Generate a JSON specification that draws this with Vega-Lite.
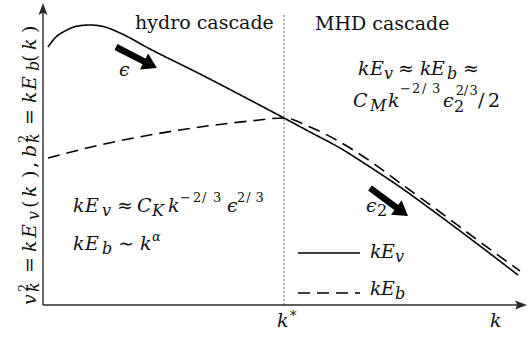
{
  "$schema": "https://vega.github.io/schema/vega-lite/v6.json",
  "width": 527,
  "height": 339,
  "padding": 0,
  "autosize": {"type": "fit", "contains": "padding"},
  "background": "white",
  "config": {"view": {"stroke": null}, "text": {"font": "DejaVu Serif"}},
  "datasets": {
    "curves": [
      {"x": 0.103, "y": 8.6, "series": "kEv"},
      {"x": 0.248, "y": 8.9, "series": "kEv"},
      {"x": 0.455, "y": 9.133, "series": "kEv"},
      {"x": 0.723, "y": 9.3, "series": "kEv"},
      {"x": 0.971, "y": 9.333, "series": "kEv"},
      {"x": 1.281, "y": 9.267, "series": "kEv"},
      {"x": 1.591, "y": 9.067, "series": "kEv"},
      {"x": 2.211, "y": 8.533, "series": "kEv"},
      {"x": 3.244, "y": 7.7, "series": "kEv"},
      {"x": 4.277, "y": 6.833, "series": "kEv"},
      {"x": 4.979, "y": 6.233, "series": "kEv"},
      {"x": 5.517, "y": 5.767, "series": "kEv"},
      {"x": 6.136, "y": 5.233, "series": "kEv"},
      {"x": 6.756, "y": 4.6, "series": "kEv"},
      {"x": 7.376, "y": 3.933, "series": "kEv"},
      {"x": 8.202, "y": 2.967, "series": "kEv"},
      {"x": 9.029, "y": 1.967, "series": "kEv"},
      {"x": 9.814, "y": 1.0, "series": "kEv"},
      {"x": 0.103, "y": 4.9, "series": "kEb"},
      {"x": 1.178, "y": 5.333, "series": "kEb"},
      {"x": 2.211, "y": 5.667, "series": "kEb"},
      {"x": 3.244, "y": 5.933, "series": "kEb"},
      {"x": 4.277, "y": 6.133, "series": "kEb"},
      {"x": 4.979, "y": 6.233, "series": "kEb"},
      {"x": 5.517, "y": 5.933, "series": "kEb"},
      {"x": 6.136, "y": 5.433, "series": "kEb"},
      {"x": 6.756, "y": 4.8, "series": "kEb"},
      {"x": 7.376, "y": 4.067, "series": "kEb"},
      {"x": 8.202, "y": 3.1, "series": "kEb"},
      {"x": 9.029, "y": 2.1, "series": "kEb"},
      {"x": 9.855, "y": 1.133, "series": "kEb"}
    ],
    "legendLines": [
      {"x": 5.269, "x2": 6.55, "y": 1.733, "series": "kEv"},
      {"x": 5.269, "x2": 6.55, "y": 0.4, "series": "kEb"}
    ],
    "axes": [
      {"x": 0, "y": 0, "x2": 9.897, "y2": 0},
      {"x": 0, "y": 0, "x2": 0, "y2": 9.9}
    ],
    "kstar": [{"x": 4.979, "y": 0, "x2": 4.979, "y2": 9.667}],
    "shafts": [
      {"x": 1.508, "y": 8.6, "x2": 2.116, "y2": 8.097},
      {"x": 6.756, "y": 3.9, "x2": 7.324, "y2": 3.223}
    ],
    "labels": [
      {"t": "hydro cascade", "x": 1.901, "y": 9.2, "kind": "rm", "level": "base", "orient": "h"},
      {"t": "MHD cascade", "x": 5.62, "y": 9.167, "kind": "rm", "level": "base", "orient": "h"},

      {"t": "k", "x": 6.508, "y": 7.667, "kind": "it", "level": "base", "orient": "h"},
      {"t": "E", "x": 6.756, "y": 7.667, "kind": "it", "level": "base", "orient": "h"},
      {"t": "v", "x": 7.045, "y": 7.533, "kind": "it", "level": "sub", "orient": "h"},
      {"t": "≈", "x": 7.335, "y": 7.667, "kind": "rm", "level": "base", "orient": "h"},
      {"t": "k", "x": 7.789, "y": 7.667, "kind": "it", "level": "base", "orient": "h"},
      {"t": "E", "x": 8.017, "y": 7.667, "kind": "it", "level": "base", "orient": "h"},
      {"t": "b", "x": 8.347, "y": 7.533, "kind": "it", "level": "sub", "orient": "h"},
      {"t": "≈", "x": 8.678, "y": 7.667, "kind": "rm", "level": "base", "orient": "h"},

      {"t": "C", "x": 6.405, "y": 6.6, "kind": "it", "level": "base", "orient": "h"},
      {"t": "M", "x": 6.757, "y": 6.467, "kind": "it", "level": "sub", "orient": "h"},
      {"t": "k", "x": 7.128, "y": 6.6, "kind": "it", "level": "base", "orient": "h"},
      {"t": "−", "x": 7.376, "y": 7.067, "kind": "rm", "level": "sup", "orient": "h"},
      {"t": "2", "x": 7.624, "y": 7.067, "kind": "rm", "level": "sup", "orient": "h"},
      {"t": "/", "x": 7.831, "y": 7.067, "kind": "rm", "level": "sup", "orient": "h"},
      {"t": "3", "x": 8.037, "y": 7.067, "kind": "rm", "level": "sup", "orient": "h"},
      {"t": "ϵ", "x": 8.264, "y": 6.6, "kind": "it", "level": "base", "orient": "h"},
      {"t": "2", "x": 8.492, "y": 6.433, "kind": "rm", "level": "sub", "orient": "h"},
      {"t": "2", "x": 8.53, "y": 7.0, "kind": "rm", "level": "sup", "orient": "h"},
      {"t": "/", "x": 8.695, "y": 7.0, "kind": "rm", "level": "sup", "orient": "h"},
      {"t": "3", "x": 8.812, "y": 7.0, "kind": "rm", "level": "sup", "orient": "h"},
      {"t": "/", "x": 8.988, "y": 6.6, "kind": "rm", "level": "base", "orient": "h"},
      {"t": "2", "x": 9.194, "y": 6.6, "kind": "rm", "level": "base", "orient": "h"},

      {"t": "k", "x": 0.62, "y": 3.1, "kind": "it", "level": "base", "orient": "h"},
      {"t": "E", "x": 0.868, "y": 3.1, "kind": "it", "level": "base", "orient": "h"},
      {"t": "v", "x": 1.22, "y": 2.967, "kind": "it", "level": "sub", "orient": "h"},
      {"t": "≈", "x": 1.529, "y": 3.1, "kind": "rm", "level": "base", "orient": "h"},
      {"t": "C", "x": 1.942, "y": 3.1, "kind": "it", "level": "base", "orient": "h"},
      {"t": "K", "x": 2.252, "y": 2.967, "kind": "it", "level": "sub", "orient": "h"},
      {"t": "k", "x": 2.583, "y": 3.1, "kind": "it", "level": "base", "orient": "h"},
      {"t": "−", "x": 2.831, "y": 3.433, "kind": "rm", "level": "sup", "orient": "h"},
      {"t": "2", "x": 3.099, "y": 3.433, "kind": "rm", "level": "sup", "orient": "h"},
      {"t": "/", "x": 3.285, "y": 3.433, "kind": "rm", "level": "sup", "orient": "h"},
      {"t": "3", "x": 3.512, "y": 3.433, "kind": "rm", "level": "sup", "orient": "h"},
      {"t": "ϵ", "x": 3.802, "y": 3.1, "kind": "it", "level": "base", "orient": "h"},
      {"t": "2", "x": 4.01, "y": 3.433, "kind": "rm", "level": "sup", "orient": "h"},
      {"t": "/", "x": 4.2, "y": 3.433, "kind": "rm", "level": "sup", "orient": "h"},
      {"t": "3", "x": 4.39, "y": 3.433, "kind": "rm", "level": "sup", "orient": "h"},

      {"t": "k", "x": 0.62, "y": 1.833, "kind": "it", "level": "base", "orient": "h"},
      {"t": "E", "x": 0.868, "y": 1.833, "kind": "it", "level": "base", "orient": "h"},
      {"t": "b", "x": 1.22, "y": 1.7, "kind": "it", "level": "sub", "orient": "h"},
      {"t": "∼", "x": 1.55, "y": 1.833, "kind": "rm", "level": "base", "orient": "h"},
      {"t": "k", "x": 2.004, "y": 1.833, "kind": "it", "level": "base", "orient": "h"},
      {"t": "α", "x": 2.252, "y": 2.133, "kind": "it", "level": "sup", "orient": "h"},

      {"t": "k", "x": 6.756, "y": 1.567, "kind": "it", "level": "base", "orient": "h"},
      {"t": "E", "x": 6.983, "y": 1.567, "kind": "it", "level": "base", "orient": "h"},
      {"t": "v", "x": 7.273, "y": 1.433, "kind": "it", "level": "sub", "orient": "h"},
      {"t": "k", "x": 6.756, "y": 0.333, "kind": "it", "level": "base", "orient": "h"},
      {"t": "E", "x": 6.983, "y": 0.333, "kind": "it", "level": "base", "orient": "h"},
      {"t": "b", "x": 7.273, "y": 0.2, "kind": "it", "level": "sub", "orient": "h"},

      {"t": "ϵ", "x": 1.57, "y": 7.633, "kind": "it", "level": "base", "orient": "h"},
      {"t": "ϵ", "x": 6.674, "y": 3.1, "kind": "it", "level": "base", "orient": "h"},
      {"t": "2", "x": 6.901, "y": 2.967, "kind": "rm", "level": "sub", "orient": "h"},

      {"t": "k", "x": 4.835, "y": -0.733, "kind": "it", "level": "base", "orient": "h"},
      {"t": "*", "x": 5.103, "y": -0.5, "kind": "rm", "level": "sup", "orient": "h"},
      {"t": "k", "x": 9.236, "y": -0.733, "kind": "it", "level": "base", "orient": "h"},

      {"t": "v", "x": -0.145, "y": 0.0, "kind": "it", "level": "base", "orient": "v"},
      {"t": "k", "x": -0.083, "y": 0.433, "kind": "it", "level": "sub", "orient": "v"},
      {"t": "2", "x": -0.31, "y": 0.433, "kind": "rm", "level": "sup", "orient": "v"},
      {"t": "=", "x": -0.145, "y": 1.067, "kind": "rm", "level": "base", "orient": "v"},
      {"t": "k", "x": -0.145, "y": 1.767, "kind": "it", "level": "base", "orient": "v"},
      {"t": "E", "x": -0.145, "y": 2.233, "kind": "it", "level": "base", "orient": "v"},
      {"t": "v", "x": -0.083, "y": 2.833, "kind": "it", "level": "sub", "orient": "v"},
      {"t": "(", "x": -0.145, "y": 3.233, "kind": "rm", "level": "base", "orient": "v"},
      {"t": "k", "x": -0.145, "y": 3.6, "kind": "it", "level": "base", "orient": "v"},
      {"t": ")", "x": -0.145, "y": 4.233, "kind": "rm", "level": "base", "orient": "v"},
      {"t": ",", "x": -0.145, "y": 4.567, "kind": "rm", "level": "base", "orient": "v"},
      {"t": "b", "x": -0.145, "y": 4.933, "kind": "it", "level": "base", "orient": "v"},
      {"t": "k", "x": -0.083, "y": 5.4, "kind": "it", "level": "sub", "orient": "v"},
      {"t": "2", "x": -0.31, "y": 5.4, "kind": "rm", "level": "sup", "orient": "v"},
      {"t": "=", "x": -0.145, "y": 6.0, "kind": "rm", "level": "base", "orient": "v"},
      {"t": "k", "x": -0.145, "y": 6.733, "kind": "it", "level": "base", "orient": "v"},
      {"t": "E", "x": -0.145, "y": 7.167, "kind": "it", "level": "base", "orient": "v"},
      {"t": "b", "x": -0.083, "y": 7.8, "kind": "it", "level": "sub", "orient": "v"},
      {"t": "(", "x": -0.145, "y": 8.1, "kind": "rm", "level": "base", "orient": "v"},
      {"t": "k", "x": -0.145, "y": 8.5, "kind": "it", "level": "base", "orient": "v"},
      {"t": ")", "x": -0.145, "y": 9.067, "kind": "rm", "level": "base", "orient": "v"}
    ]
  },
  "encoding": {
    "x": {"field": "x", "type": "quantitative", "axis": null, "scale": {"domain": [-0.888, 10], "nice": false, "zero": false}},
    "y": {"field": "y", "type": "quantitative", "axis": null, "scale": {"domain": [-1.1333, 10.1667], "nice": false, "zero": false}}
  },
  "layer": [
    {
      "data": {"name": "kstar"},
      "mark": {"type": "rule", "color": "#8a8a8a", "strokeWidth": 1.3, "strokeDash": [2, 2]},
      "encoding": {"x2": {"field": "x2"}, "y2": {"field": "y2"}}
    },
    {
      "data": {"name": "axes"},
      "mark": {"type": "rule", "color": "#2a2a2a", "strokeWidth": 1.4},
      "encoding": {"x2": {"field": "x2"}, "y2": {"field": "y2"}}
    },
    {
      "data": {"values": [{"x": 9.876, "y": 0}]},
      "mark": {"type": "point", "shape": "M1,0L-1,-0.75L-0.6,0L-1,0.75Z", "filled": true, "opacity": 1, "color": "#2a2a2a", "size": 144, "angle": 0}
    },
    {
      "data": {"values": [{"x": 0, "y": 9.867}]},
      "mark": {"type": "point", "shape": "M1,0L-1,-0.75L-0.6,0L-1,0.75Z", "filled": true, "opacity": 1, "color": "#2a2a2a", "size": 144, "angle": 270}
    },
    {
      "data": {"name": "curves"},
      "mark": {"type": "line", "color": "black", "strokeWidth": 1.6, "interpolate": "monotone"},
      "encoding": {
        "detail": {"field": "series"},
        "strokeDash": {"field": "series", "type": "nominal", "scale": {"domain": ["kEv", "kEb"], "range": [[1, 0], [12, 7]]}, "legend": null}
      }
    },
    {
      "data": {"name": "legendLines"},
      "mark": {"type": "rule", "color": "black", "strokeWidth": 1.6},
      "encoding": {
        "x2": {"field": "x2"},
        "strokeDash": {"field": "series", "type": "nominal", "scale": {"domain": ["kEv", "kEb"], "range": [[1, 0], [13, 8]]}, "legend": null}
      }
    },
    {
      "data": {"name": "shafts"},
      "mark": {"type": "rule", "color": "black", "strokeWidth": 6.5, "strokeCap": "butt"},
      "encoding": {"x2": {"field": "x2"}, "y2": {"field": "y2"}}
    },
    {
      "data": {"values": [{"x": 2.221, "y": 8.01}]},
      "mark": {"type": "point", "shape": "M1,0L-1,-1.24L-1,1.24Z", "filled": true, "opacity": 1, "color": "black", "size": 210, "angle": 27}
    },
    {
      "data": {"values": [{"x": 7.421, "y": 3.11}]},
      "mark": {"type": "point", "shape": "M1,0L-1,-1.24L-1,1.24Z", "filled": true, "opacity": 1, "color": "black", "size": 210, "angle": 36}
    },
    {
      "data": {"name": "labels"},
      "transform": [{"filter": "datum.kind == 'it' && datum.orient == 'h'"}],
      "mark": {"type": "text", "font": "DejaVu Serif", "fontStyle": "italic", "align": "left", "baseline": "alphabetic", "color": "#111"},
      "encoding": {
        "text": {"field": "t"},
        "size": {"field": "level", "type": "nominal", "scale": {"domain": ["base", "sub", "sup"], "range": [19, 13, 13]}, "legend": null}
      }
    },
    {
      "data": {"name": "labels"},
      "transform": [{"filter": "datum.kind == 'rm' && datum.orient == 'h'"}],
      "mark": {"type": "text", "font": "DejaVu Serif", "fontStyle": "normal", "align": "left", "baseline": "alphabetic", "color": "#111"},
      "encoding": {
        "text": {"field": "t"},
        "size": {"field": "level", "type": "nominal", "scale": {"domain": ["base", "sub", "sup"], "range": [17, 13, 13]}, "legend": null}
      }
    },
    {
      "data": {"name": "labels"},
      "transform": [{"filter": "datum.kind == 'it' && datum.orient == 'v'"}],
      "mark": {"type": "text", "font": "DejaVu Serif", "fontStyle": "italic", "align": "left", "baseline": "alphabetic", "angle": 270, "color": "#111"},
      "encoding": {
        "text": {"field": "t"},
        "size": {"field": "level", "type": "nominal", "scale": {"domain": ["base", "sub", "sup"], "range": [19, 13, 13]}, "legend": null}
      }
    },
    {
      "data": {"name": "labels"},
      "transform": [{"filter": "datum.kind == 'rm' && datum.orient == 'v'"}],
      "mark": {"type": "text", "font": "DejaVu Serif", "fontStyle": "normal", "align": "left", "baseline": "alphabetic", "angle": 270, "color": "#111"},
      "encoding": {
        "text": {"field": "t"},
        "size": {"field": "level", "type": "nominal", "scale": {"domain": ["base", "sub", "sup"], "range": [19, 13, 13]}, "legend": null}
      }
    }
  ]
}
